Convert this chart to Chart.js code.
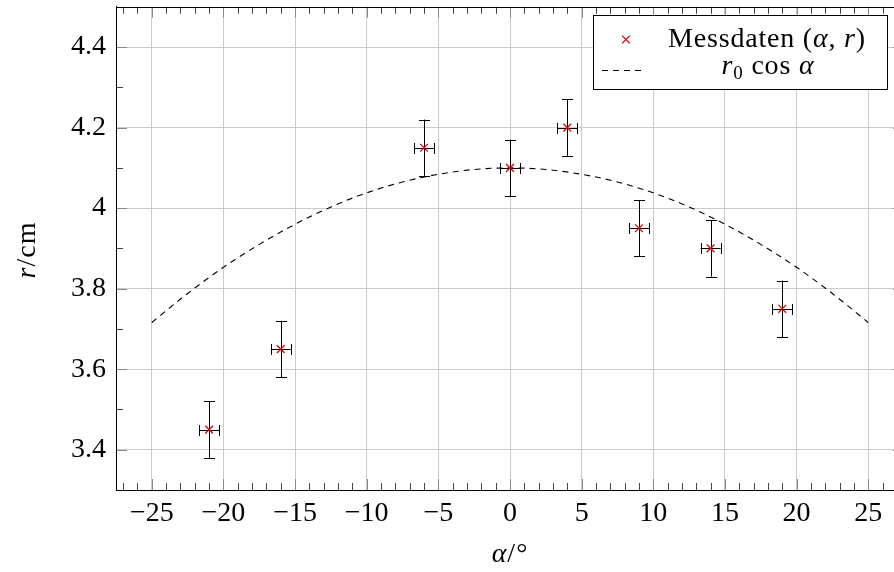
<!DOCTYPE html>
<html>
<head>
<meta charset="utf-8">
<script src="https://cdn.jsdelivr.net/npm/chart.js@4.4.1/dist/chart.umd.min.js"></script>
<style>
  html, body { margin: 0; padding: 0; background: #fff; overflow: hidden; }
  #wrap { position: absolute; left: 0; top: 0; width: 920px; height: 572px; }
</style>
</head>
<body>
<div id="wrap"><canvas id="chart"></canvas></div>
<script>
// measured values (alpha in degrees, r in cm)
const alphaDeg  = [-21, -16, -6, 0, 4, 9, 14, 19];
const radiusCm  = [3.45, 3.65, 4.15, 4.10, 4.20, 3.95, 3.90, 3.75];
const alphaErr  = [0.7, 0.7, 0.7, 0.7, 0.7, 0.7, 0.7, 0.7];
const radiusErr = [0.07, 0.07, 0.07, 0.07, 0.07, 0.07, 0.07, 0.07];

// model curve r0 cos(alpha)
const curveAlpha = [-25, -22.5, -20, -17.5, -15, -12.5, -10, -7.5, -5, -2.5, 0,
                    2.5, 5, 7.5, 10, 12.5, 15, 17.5, 20, 22.5, 25];
const curveR = [3.716, 3.788, 3.853, 3.910, 3.960, 4.003, 4.038, 4.065, 4.084, 4.096, 4.100,
                4.096, 4.084, 4.065, 4.038, 4.003, 3.960, 3.910, 3.853, 3.788, 3.716];

// axis ticks
const xTicks = [-25, -20, -15, -10, -5, 0, 5, 10, 15, 20, 25];
const yTicks = [3.4, 3.6, 3.8, 4.0, 4.2, 4.4];

const FONT = "'Liberation Serif', 'DejaVu Serif', serif";
const RED = 'rgb(220,0,0)';

// draw a list of text runs [text, style, size, dy] around x
function drawRuns(ctx, runs, x, y, align, spacing) {
    ctx.letterSpacing = (spacing || 0) + 'px';
    let total = 0;
    runs.forEach(r => {
        ctx.font = r[1] + ' ' + r[2] + 'px ' + FONT;
        r.w = ctx.measureText(r[0]).width;
        total += r.w;
    });
    let cx = align === 'center' ? x - total / 2 : x;
    ctx.textBaseline = 'alphabetic';
    ctx.textAlign = 'left';
    runs.forEach(r => {
        ctx.font = r[1] + ' ' + r[2] + 'px ' + FONT;
        ctx.fillText(r[0], cx, y + (r[3] || 0));
        cx += r.w;
    });
    ctx.letterSpacing = '0px';
}

function drawCross(ctx, x, y, r) {
    const d = r * Math.SQRT1_2;
    ctx.beginPath();
    ctx.moveTo(x - d, y - d); ctx.lineTo(x + d, y + d);
    ctx.moveTo(x - d, y + d); ctx.lineTo(x + d, y - d);
    ctx.stroke();
}

const errorBars = {
    id: 'errorBars',
    beforeDatasetsDraw(chart) {
        const ctx = chart.ctx, xs = chart.scales.x, ys = chart.scales.y;
        ctx.save();
        ctx.strokeStyle = '#000';
        ctx.lineWidth = 1;
        alphaDeg.forEach((a, i) => {
            const px = Math.round(xs.getPixelForValue(a)) + 0.5;
            const py = Math.round(ys.getPixelForValue(radiusCm[i])) + 0.5;
            const y1 = ys.getPixelForValue(radiusCm[i] + radiusErr[i]);
            const y2 = ys.getPixelForValue(radiusCm[i] - radiusErr[i]);
            const x1 = xs.getPixelForValue(a - alphaErr[i]);
            const x2 = xs.getPixelForValue(a + alphaErr[i]);
            const c = 5.5;
            ctx.beginPath();
            ctx.moveTo(px, y1); ctx.lineTo(px, y2);
            ctx.moveTo(px - c, Math.round(y1) + 0.5); ctx.lineTo(px + c, Math.round(y1) + 0.5);
            ctx.moveTo(px - c, Math.round(y2) + 0.5); ctx.lineTo(px + c, Math.round(y2) + 0.5);
            ctx.moveTo(x1, py); ctx.lineTo(x2, py);
            ctx.moveTo(Math.round(x1) + 0.5, py - c); ctx.lineTo(Math.round(x1) + 0.5, py + c);
            ctx.moveTo(Math.round(x2) + 0.5, py - c); ctx.lineTo(Math.round(x2) + 0.5, py + c);
            ctx.stroke();
        });
        ctx.restore();
    }
};

const frame = {
    id: 'frame',
    afterDraw(chart) {
        const ctx = chart.ctx, a = chart.chartArea;
        const xs = chart.scales.x, ys = chart.scales.y;
        ctx.save();
        ctx.lineWidth = 1;

        // inward ticks on all four sides, minor then major
        const tick = (vals, len, color) => {
            ctx.strokeStyle = color;
            ctx.beginPath();
            vals.forEach(v => {
                const px = Math.round(xs.getPixelForValue(v)) + 0.5;
                ctx.moveTo(px, a.bottom); ctx.lineTo(px, a.bottom - len);
                ctx.moveTo(px, a.top); ctx.lineTo(px, a.top + len);
            });
            ctx.stroke();
        };
        const ytick = (vals, len, color) => {
            ctx.strokeStyle = color;
            ctx.beginPath();
            vals.forEach(v => {
                const py = Math.round(ys.getPixelForValue(v)) + 0.5;
                ctx.moveTo(a.left, py); ctx.lineTo(a.left + len, py);
                ctx.moveTo(a.right, py); ctx.lineTo(a.right - len, py);
            });
            ctx.stroke();
        };
        const xMinor = [], yMinor = [];
        for (let v = -27; v <= 27; v++) if (v % 5 !== 0) xMinor.push(v);
        for (let k = 34; k <= 44; k++) if (k % 2 === 1) yMinor.push(k / 10);
        tick(xMinor, 7, '#444');
        ytick(yMinor, 7, '#444');
        tick(xTicks, 11, '#888');
        ytick(yTicks, 11, '#888');

        // full frame
        ctx.strokeStyle = '#000';
        ctx.strokeRect(Math.round(a.left) + 0.5, Math.round(a.top) + 0.5,
                       Math.round(a.right - a.left), Math.round(a.bottom - a.top));

        // axis titles
        ctx.fillStyle = '#000';
        drawRuns(ctx, [['α', 'italic', 28], ['/°', 'normal', 28]], 510, 562, 'center', 1);
        ctx.save();
        ctx.translate(35, 250);
        ctx.rotate(-Math.PI / 2);
        drawRuns(ctx, [['r', 'italic', 28], ['/cm', 'normal', 28]], 0, 0, 'center', 1);
        ctx.restore();

        // legend
        ctx.fillStyle = '#fff';
        ctx.fillRect(593.5, 15.5, 294, 74);
        ctx.strokeStyle = '#000';
        ctx.strokeRect(593.5, 15.5, 294, 74);
        ctx.strokeStyle = RED;
        ctx.lineWidth = 1.3;
        drawCross(ctx, 626, 39.5, 5.5);
        ctx.lineWidth = 1;
        ctx.strokeStyle = '#000';
        ctx.setLineDash([6, 5]);
        ctx.beginPath();
        ctx.moveTo(602, 70.5); ctx.lineTo(642, 70.5);
        ctx.stroke();
        ctx.setLineDash([]);
        ctx.fillStyle = '#000';
        drawRuns(ctx, [['Messdaten (', 'normal', 28], ['α', 'italic', 28], [', ', 'normal', 28],
                       ['r', 'italic', 28], [')', 'normal', 28]], 767, 47, 'center', 0.8);
        drawRuns(ctx, [['r', 'italic', 28], ['0', 'normal', 19, 5], [' cos ', 'normal', 28],
                       ['α', 'italic', 28]], 768, 74, 'center', 0.8);
        ctx.restore();
    }
};

new Chart(document.getElementById('chart'), {
    type: 'scatter',
    data: {
        datasets: [{
            label: 'Messdaten (α, r)',
            data: alphaDeg.map((a, i) => ({ x: a, y: radiusCm[i] })),
            pointStyle: 'crossRot',
            pointRadius: 5.5,
            pointHoverRadius: 5.5,
            borderColor: RED,
            backgroundColor: RED,
            borderWidth: 1.3
        }, {
            label: 'r0 cos α',
            type: 'line',
            data: curveAlpha.map((a, i) => ({ x: a, y: curveR[i] })),
            borderColor: '#000',
            borderWidth: 1.1,
            borderDash: [6, 5],
            pointRadius: 0,
            fill: false,
            cubicInterpolationMode: 'monotone'
        }]
    },
    options: {
        responsive: true,
        maintainAspectRatio: false,
        animation: false,
        events: [],
        layout: { padding: { left: 0, top: 5, right: 16, bottom: 0 } },
        plugins: { legend: { display: false }, tooltip: { enabled: false } },
        scales: {
            x: {
                type: 'linear',
                min: -27.5,
                max: 27.5,
                afterFit: s => { s.height = 82; s.paddingLeft = 0; s.paddingRight = 0; },
                afterBuildTicks: s => { s.ticks = xTicks.map(v => ({ value: v })); },
                grid: { color: '#cccccc', lineWidth: 1, drawTicks: false },
                border: { display: true, color: '#000', width: 1 },
                ticks: {
                    autoSkip: false,
                    maxRotation: 0,
                    padding: 7,
                    color: '#000',
                    font: { family: FONT, size: 28 },
                    callback: v => String(v).replace('-', '\u2212')
                }
            },
            y: {
                type: 'linear',
                min: 3.3,
                max: 4.5,
                afterFit: s => { s.width = 116; s.paddingTop = 0; s.paddingBottom = 0; },
                afterBuildTicks: s => { s.ticks = yTicks.map(v => ({ value: v })); },
                grid: { color: '#cccccc', lineWidth: 1, drawTicks: false },
                border: { display: true, color: '#000', width: 1 },
                ticks: {
                    padding: 10,
                    color: '#000',
                    font: { family: FONT, size: 28 },
                    callback: v => String(Math.round(v * 10) / 10)
                }
            }
        }
    },
    plugins: [errorBars, frame]
});
</script>
</body>
</html>
